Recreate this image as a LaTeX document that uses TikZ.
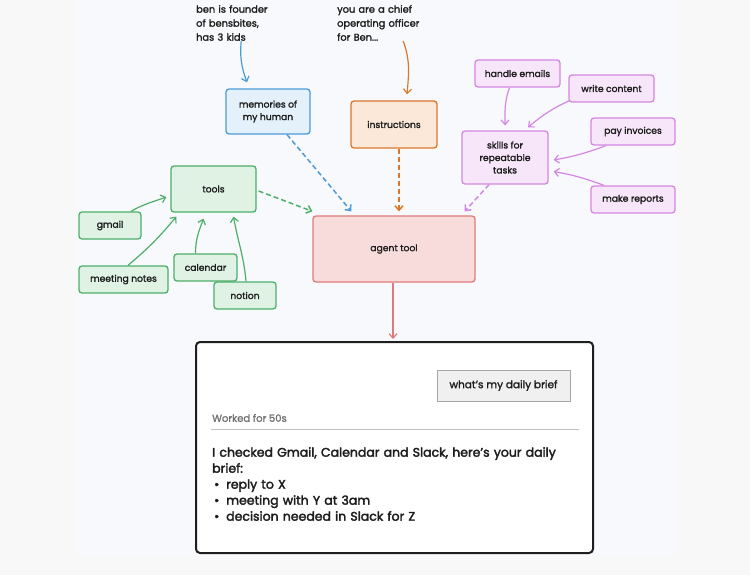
\documentclass[tikz,border=0pt]{standalone}
\usepackage{fontspec}
\setmainfont{Poppins}[UprightFeatures={FakeBold=1.8}]
\newfontfamily\heavyfont{Poppins}[UprightFeatures={FakeBold=2.6}]
\usepackage{tikz}
\usetikzlibrary{arrows.meta}

\definecolor{bgout}{HTML}{F8F8F8}
\definecolor{bgin}{HTML}{F8F9FC}
\definecolor{blueline}{HTML}{4B9BD8}
\definecolor{bluefill}{HTML}{E4F0FA}
\definecolor{orangeline}{HTML}{D9782B}
\definecolor{orangefill}{HTML}{FBE8D8}
\definecolor{purpleline}{HTML}{D487E2}
\definecolor{purplefill}{HTML}{F7E6F9}
\definecolor{greenline}{HTML}{4CAF6A}
\definecolor{greenfill}{HTML}{E0F2E4}
\definecolor{redline}{HTML}{E07A7A}
\definecolor{redfill}{HTML}{F8DCDC}
\definecolor{ink}{HTML}{1E1E1E}

\begin{document}
\begin{tikzpicture}[x=1pt,y=-1pt,>={Straight Barb[length=4.5pt,width=8pt]},
    box/.style={draw,rounded corners=3pt,line width=1.3pt,align=center,text=ink,
        font=\fontsize{9.2}{12.5}\selectfont,inner sep=0pt},
    bluebox/.style={box,draw=blueline,fill=bluefill},
    orangebox/.style={box,draw=orangeline,fill=orangefill},
    purplebox/.style={box,draw=purpleline,fill=purplefill},
    greenbox/.style={box,draw=greenline,fill=greenfill},
    redbox/.style={box,draw=redline,fill=redfill},
    note/.style={inner sep=0pt,align=left,anchor=north west,text=ink,
        font=\fontsize{9.8}{14}\selectfont},
    link/.style={arrows={->},line width=1.2pt},
    dlink/.style={link,dashed,dash pattern=on 5pt off 3pt,line width=1.5pt}]
    \useasboundingbox (0,0) rectangle (750,575);
    \fill[bgout] (0,0) rectangle (750,575);
    \fill[bgin] (77,0) rectangle (676,556);
    % inputs at the top
    \node[note,text width=90pt] (ben) at (196,5) {ben is founder\\of bensbites,\\has 3 kids};
    \node[note,text width=132pt] (coo) at (337,5) {you are a chief\\operating officer\\for Ben...};
    \node[bluebox,minimum width=84pt,minimum height=45pt] (mem) at (268,111.5) {memories of\\my human};
    \node[orangebox,minimum width=86pt,minimum height=47pt] (ins) at (394,124.5) {instructions};
    % skills
    \node[purplebox,minimum width=85pt,minimum height=27pt] (handle) at (517.5,73.5) {handle emails};
    \node[purplebox,minimum width=85pt,minimum height=27pt] (write) at (611.5,88.5) {write content};
    \node[purplebox,minimum width=86pt,minimum height=53pt] (skills) at (505,157.5) {skills for\\repeatable\\tasks};
    \node[purplebox,minimum width=84pt,minimum height=27pt] (pay) at (633,131.5) {pay invoices};
    \node[purplebox,minimum width=84pt,minimum height=27pt] (make) at (633,199.5) {make reports};
    % tools
    \node[greenbox,minimum width=85pt,minimum height=46pt] (tools) at (213.5,189) {tools};
    \node[greenbox,minimum width=62pt,minimum height=27pt] (gmail) at (110,225.5) {gmail};
    \node[greenbox,minimum width=89pt,minimum height=27pt] (notes) at (123.5,279.5) {meeting notes};
    \node[greenbox,minimum width=63pt,minimum height=27pt] (cal) at (205.5,267.5) {calendar};
    \node[greenbox,minimum width=62pt,minimum height=27pt] (notion) at (245,295.5) {notion};
    % agent and output
    \node[redbox,minimum width=162pt,minimum height=66pt] (agent) at (394,249) {agent tool};
    \node[draw=ink,fill=white,rounded corners=4pt,line width=2pt,inner sep=0pt,
        minimum width=397pt,minimum height=211pt] (brief) at (394.5,447.5) {};
    \node[draw=black!35,fill=black!6,line width=0.8pt,inner sep=0pt,text=ink,
        minimum width=133pt,minimum height=31pt,font=\fontsize{10.5}{12}\selectfont] (ask) at (503.5,385.5) {what’s my daily brief};
    \node[note,anchor=west,text=black!55,font=\fontsize{10}{12}\selectfont] (worked) at (212,418) {Worked for 50s};
    \draw[black!25,line width=1pt] ([xshift=16pt]brief.west |- 0,429) -- ([xshift=-15pt]brief.east |- 0,429);
    \node[note,text width=380pt,font=\heavyfont\fontsize{12.5}{16}\selectfont] (reply) at (212,447)
        {I checked Gmail, Calendar and Slack, here’s your daily\\brief:\\
        \hspace*{2pt}\textbullet\hspace{0.55em}reply to X\\
        \hspace*{2pt}\textbullet\hspace{0.55em}meeting with Y at 3am\\
        \hspace*{2pt}\textbullet\hspace{0.55em}decision needed in Slack for Z};
    % connectors
    \draw[link,blueline] (ben.south) to[out=-95,in=110] ([xshift=-21pt,yshift=6pt]mem.north);
    \draw[link,orangeline] (coo.south) to[out=-70,in=85] ([xshift=13pt,yshift=6pt]ins.north);
    \draw[link,purpleline] ([xshift=-8pt]handle.south) to[out=-110,in=90] ([yshift=5pt]skills.north);
    \draw[link,purpleline] ([xshift=1pt,yshift=2pt]write.south west) to[out=205,in=40] ([xshift=23pt,yshift=3pt]skills.north);
    \draw[link,purpleline] ([xshift=-27pt]pay.south) to[out=200,in=10] ([xshift=5pt,yshift=-2.5pt]skills.east);
    \draw[link,purpleline] ([xshift=-29pt]make.north) to[out=160,in=-10] ([xshift=5pt,yshift=-14pt]skills.east);
    \draw[link,greenline] ([xshift=21pt]gmail.north) to[out=30,in=200] ([xshift=-4pt,yshift=-8pt]tools.west);
    \draw[link,greenline] ([xshift=4.5pt]notes.north) to[out=40,in=230] ([xshift=6pt,yshift=-4pt]tools.south west);
    \draw[link,greenline] ([xshift=-10pt]cal.north) to[out=90,in=250] ([xshift=-10pt,yshift=-6pt]tools.south);
    \draw[link,greenline] ([xshift=1pt]notion.north) to[out=95,in=-80] ([xshift=20pt,yshift=-4pt]tools.south);
    \draw[dlink,greenline] ([xshift=2pt,yshift=-2pt]tools.east) -- ([yshift=4pt]agent.north west);
    \draw[dlink,blueline] ([xshift=19pt]mem.south) -- ([xshift=39pt,yshift=4pt]agent.north west);
    \draw[dlink,orangeline] ([xshift=5pt]ins.south) -- ([xshift=5pt,yshift=4pt]agent.north);
    \draw[dlink,purpleline] ([xshift=-16pt]skills.south) -- ([xshift=-11pt,yshift=4pt]agent.north east);
    \draw[link,redline] ([xshift=-1pt]agent.south) -- ([xshift=-1.5pt,yshift=2pt]brief.north);
\end{tikzpicture}
\end{document}
